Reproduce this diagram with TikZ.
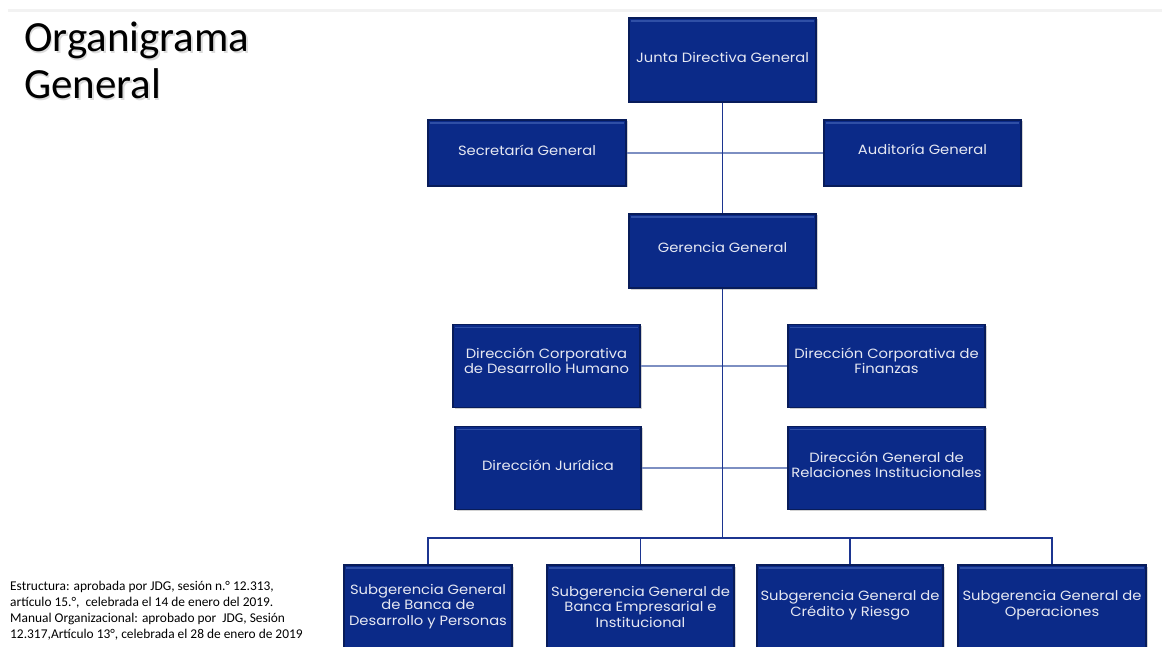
\documentclass[tikz,border=0pt]{standalone}
\usepackage{fontspec}
\setmainfont{Poppins}[FakeStretch=1.1]
\newfontfamily\calib{Carlito}
\usetikzlibrary{shadows}
\definecolor{boxfill}{HTML}{0B2A88}
\definecolor{boxedge}{HTML}{081C5A}
\definecolor{boxbevel}{HTML}{2F4FA6}
\definecolor{trunkcol}{HTML}{1C3590}
\definecolor{linkcol}{HTML}{7D8FC2}
\definecolor{boxtext}{HTML}{E6E8F2}
\tikzset{
  orgbox/.style={draw=boxedge, line width=1.1pt, fill=boxfill, inner sep=0pt,
    drop shadow={shadow xshift=1.5pt, shadow yshift=-1.5pt, opacity=0.35},
    path picture={\draw[boxbevel, line width=1.6pt]
      ([xshift=2pt,yshift=-3pt]path picture bounding box.north west) --
      ([xshift=-2pt,yshift=-3pt]path picture bounding box.north east);}},
  boxlabel/.style={text=boxtext, font=\fontsize{13.4}{15.5}\selectfont,
    align=center, inner sep=0pt},
  trunk/.style={draw=trunkcol, line width=1.4pt},
  link/.style={draw=linkcol, line width=2pt},
  bus/.style={draw=trunkcol, line width=1.3pt},
}
\begin{document}
\begin{tikzpicture}[x=1pt,y=-1pt]
\clip (0,0) rectangle (1167,647);
\useasboundingbox (0,0) rectangle (1167,647);
\fill[white] (0,0) rectangle (1167,647);
\fill[black!5] (8,9) rectangle (1162,12);

% title
\node[anchor=north west, inner sep=0pt, align=left, font=\calib\fontsize{43}{47}\selectfont, text=black!40, opacity=0.35] (titleshadow) at (25.5,23.5) {Organigrama\\General};
\node[anchor=north west, inner sep=0pt, align=left, font=\calib\fontsize{43}{47}\selectfont] (title) at (24,22) {Organigrama\\General};

% footnote
\node[anchor=north west, inner sep=0pt, align=left, font=\calib\fontsize{13.4}{16}\selectfont] (note) at (10,581) {Estructura: aprobada por JDG, sesión n.° 12.313,\\artículo 15.°,\ \ celebrada el 14 de enero del 2019.\\Manual Organizacional: aprobado por\ \ JDG, Sesión\\12.317,Artículo 13°, celebrada el 28 de enero de 2019};

% boxes
\node[orgbox, minimum width=187pt, minimum height=84pt] (jdg) at (722.5,60) {};
\node[orgbox, minimum width=198pt, minimum height=66pt] (sec) at (527,153) {};
\node[orgbox, minimum width=197pt, minimum height=66pt] (aud) at (922.5,153) {};
\node[orgbox, minimum width=187pt, minimum height=74pt] (ger) at (722.5,251) {};
\node[orgbox, minimum width=187pt, minimum height=83pt] (dch) at (546.5,366) {};
\node[orgbox, minimum width=197pt, minimum height=83pt] (dcf) at (886.5,366) {};
\node[orgbox, minimum width=186pt, minimum height=83pt] (dj) at (548,468) {};
\node[orgbox, minimum width=197pt, minimum height=83pt] (dgri) at (886.5,468) {};
\node[orgbox, minimum width=168pt, minimum height=86pt] (sg1) at (428,608) {};
\node[orgbox, minimum width=187pt, minimum height=86pt] (sg2) at (640.5,608) {};
\node[orgbox, minimum width=186pt, minimum height=86pt] (sg3) at (850,608) {};
\node[orgbox, minimum width=188pt, minimum height=86pt] (sg4) at (1052,608) {};

% box texts
\node[boxlabel] (jdgT) at ([yshift=3pt]jdg.center) {Junta Directiva General};
\node[boxlabel] (secT) at ([yshift=3pt]sec.center) {Secretaría General};
\node[boxlabel] (audT) at ([yshift=4pt]aud.center) {Auditoría General};
\node[boxlabel] (gerT) at ([yshift=4pt]ger.center) {Gerencia General};
\node[boxlabel] (dchT) at ([yshift=5pt]dch.center) {Dirección Corporativa\\de Desarrollo Humano};
\node[boxlabel] (dcfT) at ([yshift=5pt]dcf.center) {Dirección Corporativa de\\Finanzas};
\node[boxlabel] (djT) at ([yshift=3pt]dj.center) {Dirección Jurídica};
\node[boxlabel] (dgriT) at ([yshift=3pt]dgri.center) {Dirección General de\\Relaciones Institucionales};
\node[boxlabel] (sg1T) at ([yshift=1.5pt]sg1.center) {Subgerencia General\\de Banca de\\Desarrollo y Personas};
\node[boxlabel] (sg2T) at ([yshift=1.5pt]sg2.center) {Subgerencia General de\\Banca Empresarial e\\Institucional};
\node[boxlabel] (sg3T) at ([yshift=3pt]sg3.center) {Subgerencia General de\\Crédito y Riesgo};
\node[boxlabel] (sg4T) at ([yshift=3pt]sg4.center) {Subgerencia General de\\Operaciones};

\coordinate (busc) at (722.5,538);

% side links
\draw[link] (sec.east) -- (aud.west);
\draw[link] (dch.east) -- (dcf.west);
\draw[link] (dj.east) -- (dgri.west);

% bus to subgerencias
\draw[bus] (sg1.north) |- (sg4.north |- busc) -- (sg4.north);
\draw[bus] (sg2.north) -- (sg2.north |- busc);
\draw[bus] (sg3.north) -- (sg3.north |- busc);

% trunk
\draw[trunk] (jdg.south) -- (ger.north);
\draw[trunk] (ger.south) -- (busc);
\end{tikzpicture}
\end{document}
